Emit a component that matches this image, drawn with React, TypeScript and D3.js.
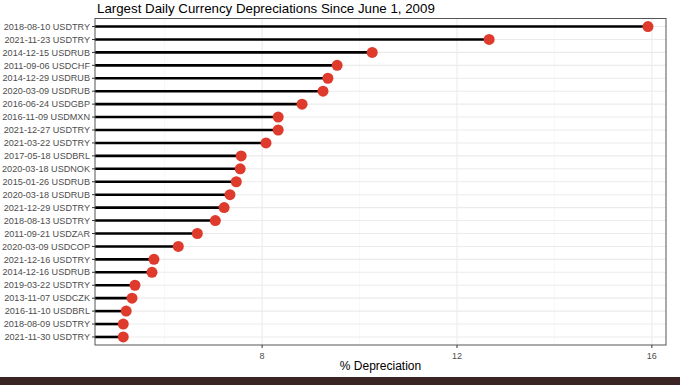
import React, { useEffect, useRef } from 'react';
import * as d3 from 'd3';

// rows top to bottom
const labels = [
  '2018-08-10 USDTRY', '2021-11-23 USDTRY', '2014-12-15 USDRUB', '2011-09-06 USDCHF',
  '2014-12-29 USDRUB', '2020-03-09 USDRUB', '2016-06-24 USDGBP', '2016-11-09 USDMXN',
  '2021-12-27 USDTRY', '2021-03-22 USDTRY', '2017-05-18 USDBRL', '2020-03-18 USDNOK',
  '2015-01-26 USDRUB', '2020-03-18 USDRUB', '2021-12-29 USDTRY', '2018-08-13 USDTRY',
  '2011-09-21 USDZAR', '2020-03-09 USDCOP', '2021-12-16 USDTRY', '2014-12-16 USDRUB',
  '2019-03-22 USDTRY', '2013-11-07 USDCZK', '2016-11-10 USDBRL', '2018-08-09 USDTRY',
  '2021-11-30 USDTRY',
];
const depreciation = [
  15.92, 12.66, 10.26, 9.54, 9.35, 9.25, 8.82, 8.33, 8.33, 8.08, 7.57, 7.55,
  7.47, 7.34, 7.22, 7.04, 6.67, 6.28, 5.78, 5.74, 5.39, 5.33, 5.21, 5.15, 5.15,
];
const majorTicks = [8, 12, 16];
const minorTicks = [6, 10, 14];

const W = 680;
const H = 385;

function App() {
  const ref = useRef<SVGSVGElement>(null);

  useEffect(() => {
    const svg = d3.select(ref.current);
    svg.selectAll('*').remove();

    const left = 95, right = 666, top = 18.5, bottom = 345;
    const x = d3.scaleLinear().domain([4.57, 16.29]).range([left, right]);
    const y = d3.scalePoint().domain(labels).range([top, bottom]).padding(0.62);
    const font = 'Liberation Sans, Arial, sans-serif';

    svg.append('rect').attr('width', W).attr('height', H).attr('fill', '#fff');

    const grid = svg.append('g');
    grid.selectAll('.minor').data(minorTicks).enter().append('line')
      .attr('x1', d => x(d)).attr('x2', d => x(d))
      .attr('y1', top).attr('y2', bottom)
      .attr('stroke', '#f2f2f2').attr('stroke-width', 0.6);
    grid.selectAll('.major').data(majorTicks).enter().append('line')
      .attr('x1', d => x(d)).attr('x2', d => x(d))
      .attr('y1', top).attr('y2', bottom)
      .attr('stroke', '#ebebeb').attr('stroke-width', 1.1);
    grid.selectAll('.hline').data(labels).enter().append('line')
      .attr('x1', left).attr('x2', right)
      .attr('y1', d => y(d)!).attr('y2', d => y(d)!)
      .attr('stroke', '#ebebeb').attr('stroke-width', 1.1);

    const data = labels.map((l, i) => ({ l, v: depreciation[i] }));

    svg.selectAll('.seg').data(data).enter().append('line')
      .attr('x1', left).attr('x2', d => x(d.v))
      .attr('y1', d => y(d.l)!).attr('y2', d => y(d.l)!)
      .attr('stroke', '#000').attr('stroke-width', 2.6);

    svg.selectAll('.dot').data(data).enter().append('circle')
      .attr('cx', d => x(d.v)).attr('cy', d => y(d.l)!).attr('r', 5.5)
      .attr('fill', '#df3b2d');

    svg.append('rect')
      .attr('x', left).attr('y', top).attr('width', right - left).attr('height', bottom - top)
      .attr('fill', 'none').attr('stroke', '#555').attr('stroke-width', 1);

    // y axis
    const ya = svg.append('g');
    ya.selectAll('line').data(labels).enter().append('line')
      .attr('x1', left - 3).attr('x2', left)
      .attr('y1', d => y(d)!).attr('y2', d => y(d)!)
      .attr('stroke', '#333').attr('stroke-width', 1);
    ya.selectAll('text').data(labels).enter().append('text')
      .attr('x', left - 5).attr('y', d => y(d)!).attr('dy', '0.35em')
      .attr('text-anchor', 'end').attr('font-family', font).attr('font-size', 9.1)
      .attr('fill', '#4d4d4d').text(d => d);

    // x axis
    const xa = svg.append('g');
    xa.selectAll('line').data(majorTicks).enter().append('line')
      .attr('x1', d => x(d)).attr('x2', d => x(d))
      .attr('y1', bottom).attr('y2', bottom + 3)
      .attr('stroke', '#333').attr('stroke-width', 1);
    xa.selectAll('text').data(majorTicks).enter().append('text')
      .attr('x', d => x(d)).attr('y', bottom + 14)
      .attr('text-anchor', 'middle').attr('font-family', font).attr('font-size', 9)
      .attr('fill', '#4d4d4d').text(d => d);

    svg.append('text')
      .attr('x', (left + right) / 2).attr('y', 370)
      .attr('text-anchor', 'middle').attr('font-family', font).attr('font-size', 12)
      .attr('fill', '#000').text('% Depreciation');

    svg.append('text')
      .attr('x', left + 2).attr('y', 13)
      .attr('font-family', font).attr('font-size', 13.3)
      .attr('fill', '#000').text('Largest Daily Currency Depreciations Since June 1, 2009');

    svg.append('rect').attr('x', 0).attr('y', 377).attr('width', W).attr('height', 8)
      .attr('fill', '#3b2424');
  }, []);

  return <svg ref={ref} width={W} height={H} style={{ position: 'absolute', left: 0, top: 0 }} />;
}

export default App;
